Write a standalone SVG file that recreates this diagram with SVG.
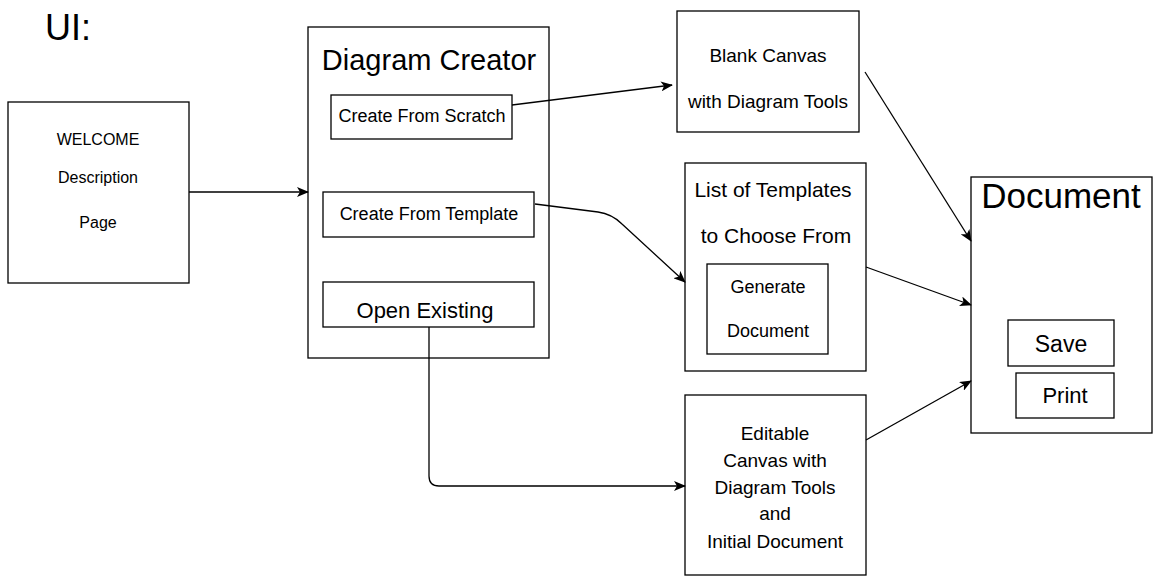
<svg xmlns="http://www.w3.org/2000/svg" width="1154" height="576" viewBox="0 0 1154 576">
<style>
.box{fill:#fff;stroke:#000;stroke-width:1.3}
.t{font-family:"Liberation Sans",Arial,sans-serif;fill:#000;text-anchor:middle}
.edge{fill:none;stroke:#000;stroke-width:1.3;marker-end:url(#arr)}
</style>
<defs>
<marker id="arr" viewBox="0 0 12 10" refX="11" refY="5" markerWidth="12" markerHeight="10" markerUnits="userSpaceOnUse" orient="auto">
<path d="M0,0 L12,5 L0,10 L3,5 Z" fill="#000"/>
</marker>
</defs>
<rect width="1154" height="576" fill="#fff"/>
<text x="45" y="40" font-family="Liberation Sans,Arial,sans-serif" font-size="36" fill="#000">UI:</text>

<g id="welcome">
<rect class="box" x="8" y="102" width="181" height="181"/>
<text class="t" x="98" y="145" font-size="16">WELCOME</text>
<text class="t" x="98" y="183" font-size="16">Description</text>
<text class="t" x="98" y="228" font-size="16">Page</text>
</g>

<g id="creator">
<rect class="box" x="308" y="27" width="241" height="331"/>
<text class="t" x="429" y="70" font-size="29">Diagram Creator</text>
</g>
<g id="scratch">
<rect class="box" x="331" y="95" width="181" height="44"/>
<text class="t" x="422" y="122" font-size="18">Create From Scratch</text>
</g>
<g id="template">
<rect class="box" x="323" y="192" width="211" height="45"/>
<text class="t" x="429" y="220" font-size="18">Create From Template</text>
</g>
<g id="existing">
<rect class="box" x="323" y="282" width="211" height="45"/>
<text class="t" x="425" y="318" font-size="22">Open Existing</text>
</g>

<g id="blank">
<rect class="box" x="677" y="11" width="182" height="121"/>
<text class="t" x="768" y="62" font-size="19">Blank Canvas</text>
<text class="t" x="768" y="108" font-size="19">with Diagram Tools</text>
</g>

<g id="list">
<rect class="box" x="685" y="163" width="181" height="208"/>
<text class="t" x="773" y="197" font-size="21">List of Templates</text>
<text class="t" x="776" y="243" font-size="21">to Choose From</text>
</g>
<g id="generate">
<rect class="box" x="707" y="264" width="121" height="90"/>
<text class="t" x="768" y="293" font-size="18">Generate</text>
<text class="t" x="768" y="337" font-size="18">Document</text>
</g>

<g id="editable">
<rect class="box" x="685" y="395" width="181" height="180"/>
<text class="t" x="775" y="440" font-size="19">Editable</text>
<text class="t" x="775" y="467" font-size="19">Canvas with</text>
<text class="t" x="775" y="494" font-size="19">Diagram Tools</text>
<text class="t" x="775" y="520" font-size="19">and</text>
<text class="t" x="775" y="548" font-size="19">Initial Document</text>
</g>

<g id="document">
<rect class="box" x="971" y="177" width="181" height="256"/>
<text class="t" x="1061" y="208" font-size="35">Document</text>
</g>
<g id="save">
<rect class="box" x="1008" y="320" width="106" height="46"/>
<text class="t" x="1061" y="352" font-size="23">Save</text>
</g>
<g id="print">
<rect class="box" x="1016" y="373" width="98" height="45"/>
<text class="t" x="1065" y="403" font-size="22">Print</text>
</g>

<g id="connectors">
<path class="edge" d="M189,192 L308,192"/>
<path class="edge" d="M512,105 L672,85"/>
<path class="edge" d="M535,204 L598,212 Q612,214 622,224 L685,282"/>
<path class="edge" d="M429,327 L429,476 Q429,486 439,486 L685,486"/>
<path class="edge" d="M865,72 L971,241"/>
<path class="edge" d="M866,267 L971,305"/>
<path class="edge" d="M866,440 L971,381"/>
</g>
</svg>
